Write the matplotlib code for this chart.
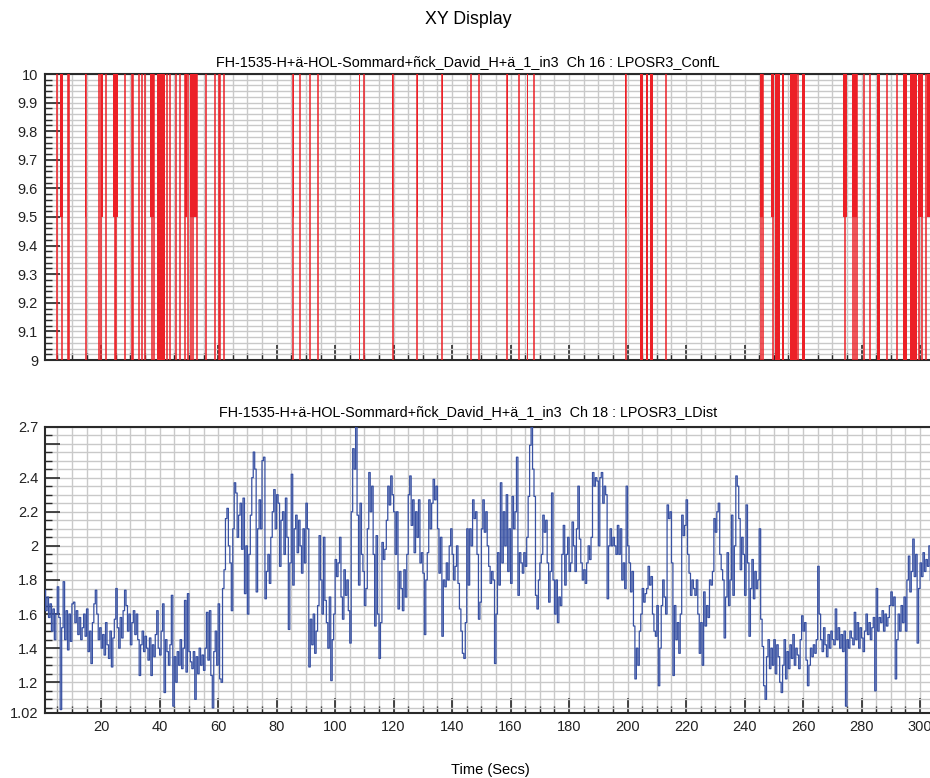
import matplotlib
matplotlib.use("Agg")
import matplotlib.pyplot as plt
import numpy as np
from matplotlib.ticker import MultipleLocator, FixedLocator

plt.rcParams['font.family'] = ['Liberation Sans', 'DejaVu Sans']

run_name = "FH-1535-H+ä-HOL-Sommard+ñck_David_H+ä_1_in3"

# Ch 16 : confidence, sits at 10 and drops to 9.5 or 9
drops_to_9 = [4.85, 6.6, 8.7, 9.0, 14.8, 19.4, 20.1, 21.5, 24.6, 25.2, 28.0, 30.6,
              30.9, 33.1, 33.8, 35.1, 37.3, 38.0, 42.6, 43.5, 45.6, 47.1, 48.7, 49.6,
              50.6, 51.4, 52.7, 55.8, 59.0, 60.2, 60.7, 62.0,
              85.7, 88.0, 91.5, 94.3, 109.9, 119.7, 128.1, 136.6, 146.4, 149.3,
              158.9, 163.0, 168.0, 199.3, 213.1,
              245.6, 246.2, 249.8, 258.4, 274.5, 277.2, 277.8, 278.4, 280.8, 282.9,
              288.6, 292.0, 299.6, 300.5, 302.1]
bursts_to_9 = [(39.0, 41.8), (108.1, 108.5), (165.5, 165.9), (204.3, 205.4),
               (206.3, 207.1), (207.7, 208.8), (250.5, 252.1), (252.7, 253.5),
               (255.6, 257.8), (259.7, 260.6), (285.4, 286.3), (294.3, 295.5),
               (296.4, 298.9)]
bursts_to_95 = [(6.0, 7.1), (14.5, 14.9), (20.0, 20.8), (24.2, 25.6), (36.8, 37.9),
                (48.7, 49.4), (50.4, 52.7), (85.5, 85.9), (119.5, 119.9),
                (128.0, 128.3), (136.5, 136.8), (146.3, 146.6), (158.7, 159.0),
                (199.0, 199.4), (213.0, 213.3), (245.3, 246.4), (249.1, 250.2),
                (273.8, 274.9), (276.9, 278.6), (297.0, 298.9), (299.4, 301.1),
                (302.5, 303.4)]

# Ch 18 : distance, one value every 0.5 s starting at 0.5 s
ldist = [
    1.74, 1.62, 1.70, 1.58, 1.66, 1.50, 1.63, 1.45, 1.60, 1.76,
    1.58, 1.04, 1.52, 1.79, 1.45, 1.62, 1.39, 1.60, 1.44, 1.66,
    1.67, 1.55, 1.62, 1.48, 1.58, 1.45, 1.52, 1.60, 1.47, 1.63,
    1.38, 1.50, 1.31, 1.55, 1.66, 1.74, 1.60, 1.45, 1.52, 1.40,
    1.48, 1.36, 1.55, 1.42, 1.34, 1.50, 1.29, 1.46, 1.57, 1.75,
    1.52, 1.40, 1.58, 1.46, 1.62, 1.74, 1.65, 1.50, 1.60, 1.42,
    1.55, 1.62, 1.48, 1.60, 1.45, 1.24, 1.42, 1.50, 1.38, 1.47,
    1.40, 1.33, 1.46, 1.24, 1.42, 1.35, 1.48, 1.62, 1.40, 1.36,
    1.50, 1.66, 1.14, 1.45, 1.38, 1.30, 1.42, 1.71, 1.06, 1.35,
    1.20, 1.38, 1.30, 1.45, 1.28, 1.40, 1.68, 1.26, 1.72, 1.38,
    1.32, 1.28, 1.38, 1.10, 1.35, 1.25, 1.40, 1.30, 1.36, 1.27,
    1.40, 1.61, 1.33, 1.62, 1.24, 1.05, 1.38, 1.50, 1.30, 1.66,
    1.22, 1.20, 1.75, 1.86, 2.16, 2.22, 2.00, 1.90, 1.62, 2.10,
    2.37, 2.31, 2.05, 2.18, 2.25, 1.98, 2.28, 1.72, 2.00, 1.60,
    1.95, 2.18, 2.40, 2.55, 2.45, 1.73, 2.10, 2.27, 2.10, 2.50,
    2.52, 1.69, 1.85, 1.95, 1.78, 2.05, 2.20, 2.33, 2.10, 2.30,
    2.25, 1.88, 2.15, 2.20, 1.95, 2.28, 2.05, 1.51, 1.90, 2.42,
    1.77, 2.10, 2.18, 1.96, 2.15, 2.00, 1.84, 2.10, 1.90, 2.25,
    2.10, 1.29, 1.57, 1.42, 1.60, 1.37, 1.50, 1.65, 2.06, 1.80,
    1.60, 2.05, 1.68, 1.55, 1.40, 1.70, 1.21, 1.45, 1.60, 1.92,
    1.82, 1.90, 2.05, 1.70, 1.57, 1.86, 1.71, 1.80, 1.62, 1.43,
    2.20, 2.57, 2.45, 2.70, 2.18, 1.77, 2.25, 1.95, 1.85, 1.65,
    1.75, 2.10, 2.43, 2.20, 2.35, 1.95, 1.53, 2.06, 1.60, 1.34,
    1.55, 2.02, 1.92, 1.98, 2.15, 2.35, 2.24, 2.41, 2.30, 2.20,
    1.95, 2.20, 1.63, 1.85, 1.75, 1.62, 1.86, 1.70, 1.95, 2.30,
    2.41, 2.12, 2.27, 1.96, 2.20, 2.05, 2.27, 1.90, 1.96, 1.84,
    1.48, 1.80, 1.96, 2.27, 2.10, 2.25, 2.39, 2.27, 2.35, 2.10,
    1.84, 2.05, 1.47, 1.80, 1.76, 1.90, 1.80, 2.00, 2.10, 1.95,
    1.80, 1.88, 2.00, 1.78, 1.63, 1.50, 1.37, 1.34, 1.55, 2.10,
    1.77, 2.10, 2.00, 2.27, 2.16, 2.20, 1.95, 1.57, 1.67, 2.10,
    2.27, 2.08, 2.20, 2.00, 1.88, 1.78, 1.85, 1.80, 1.31, 1.60,
    1.96, 1.77, 2.37, 1.90, 2.20, 2.00, 2.30, 1.85, 2.10, 1.78,
    2.29, 2.10, 2.20, 2.52, 1.71, 1.96, 1.90, 1.84, 1.96, 1.88,
    2.05, 2.29, 2.59, 2.70, 2.45, 2.29, 1.71, 1.63, 1.80, 1.90,
    1.95, 2.18, 2.08, 2.15, 1.90, 1.67, 1.85, 2.31, 1.80, 1.60,
    1.80, 1.55, 1.70, 1.65, 1.95, 2.12, 1.77, 1.95, 2.05, 1.85,
    1.90, 2.14, 2.00, 1.85, 2.10, 2.35, 2.04, 1.90, 1.80, 1.86,
    1.78, 1.90, 2.00, 1.92, 2.05, 2.43, 2.35, 2.40, 2.38, 2.00,
    2.40, 2.43, 2.25, 2.35, 2.30, 1.69, 2.00, 2.10, 2.00, 2.05,
    2.00, 1.95, 2.12, 1.95, 2.10, 1.80, 1.90, 1.75, 2.35, 2.00,
    1.90, 1.73, 1.85, 1.53, 1.22, 1.40, 1.30, 1.50, 1.60, 1.75,
    1.67, 1.72, 1.75, 1.88, 1.77, 1.82, 1.60, 1.50, 1.47, 1.65,
    1.18, 1.40, 1.65, 1.80, 1.70, 1.60, 2.24, 2.16, 2.20, 1.90,
    1.24, 1.65, 1.45, 1.55, 1.37, 1.60, 2.18, 2.06, 2.12, 2.27,
    1.95, 1.84, 1.71, 1.80, 1.75, 1.71, 1.80, 1.60, 1.37, 1.55,
    1.30, 1.73, 1.53, 1.65, 1.58, 1.80, 1.77, 1.85, 2.16, 2.08,
    2.20, 2.25, 1.95, 1.86, 1.80, 1.46, 1.70, 1.96, 1.65, 1.80,
    2.18, 1.71, 2.00, 2.41, 2.35, 2.16, 1.86, 2.05, 1.95, 1.71,
    2.24, 1.90, 1.47, 1.75, 1.92, 1.69, 1.85, 1.75, 1.80, 2.10,
    1.57, 1.41, 1.18, 1.10, 1.35, 1.45, 1.28, 1.40, 1.30, 1.45,
    1.25, 1.42, 1.35, 1.20, 1.14, 1.30, 1.45, 1.22, 1.38, 1.28,
    1.42, 1.34, 1.48, 1.30, 1.40, 1.36, 1.28, 1.45, 1.59, 1.50,
    1.55, 1.33, 1.18, 1.30, 1.40, 1.35, 1.42, 1.37, 1.45, 1.88,
    1.60, 1.45, 1.38, 1.52, 1.42, 1.35, 1.48, 1.40, 1.50, 1.45,
    1.42, 1.63, 1.45, 1.52, 1.40, 1.48, 1.38, 1.50, 1.06, 1.45,
    1.40, 1.50, 1.46, 1.42, 1.61, 1.45, 1.55, 1.40, 1.52, 1.46,
    1.38, 1.50, 1.60, 1.48, 1.55, 1.45, 1.52, 1.58, 1.15, 1.75,
    1.50, 1.58, 1.55, 1.62, 1.50, 1.60, 1.53, 1.58, 1.65, 1.73,
    1.65, 1.70, 1.22, 1.45, 1.60, 1.50, 1.65, 1.55, 1.70, 1.50,
    1.80, 1.94, 1.73, 1.85, 2.04, 1.82, 1.95, 1.43, 1.75, 1.90,
    1.82, 1.96, 1.85, 1.92, 1.88, 2.00, 1.80,
]
t_ldist = 0.5 + 0.5 * np.arange(len(ldist))

xticks = [20, 40, 60, 80, 100, 120, 140, 160, 180, 200, 220, 240, 260, 280, 300]
xmin, xmax = 0.8, 303.4

red = '#ec2027'
blue = '#3851a3'
grid_col = '#c9c9c9'
spine_col = '#2a2a2a'

fig = plt.figure(figsize=(9.3, 7.78), dpi=100)
ax1 = fig.add_axes([45 / 930, 1 - 360 / 778, 885 / 930, 286 / 778])
ax2 = fig.add_axes([45 / 930, 1 - 713 / 778, 885 / 930, 286.5 / 778])


def style_axes(ax):
    ax.set_xlim(xmin, xmax)
    ax.xaxis.set_major_locator(FixedLocator(xticks))
    ax.xaxis.set_minor_locator(MultipleLocator(5))
    ax.grid(True, which='both', color=grid_col, lw=1.0, zorder=0)
    ax.set_axisbelow(True)
    ax.tick_params(which='both', direction='in', color=spine_col, labelsize=10.5,
                   labelcolor='#222222', pad=5, top=False, right=False)
    ax.tick_params(which='major', length=11, width=1.2)
    ax.tick_params(which='minor', length=5, width=1.0)
    for s in ['top', 'left', 'bottom']:
        ax.spines[s].set_color(spine_col)
        ax.spines[s].set_linewidth(1.5)
    ax.spines['right'].set_visible(False)


# top channel
style_axes(ax1)
ax1.vlines(drops_to_9, 9, 10, color=red, lw=1.1, zorder=3)
for s, e in bursts_to_9:
    ax1.bar(s, 1.0, width=e - s, bottom=9, align='edge', color=red, lw=0, zorder=3)
for s, e in bursts_to_95:
    ax1.bar(s, 0.5, width=e - s, bottom=9.5, align='edge', color=red, lw=0, zorder=3)
ax1.set_ylim(9, 10)
y1 = [9.0, 9.1, 9.2, 9.3, 9.4, 9.5, 9.6, 9.7, 9.8, 9.9, 10.0]
ax1.set_yticks(y1)
ax1.set_yticklabels(['9', '9.1', '9.2', '9.3', '9.4', '9.5', '9.6', '9.7', '9.8', '9.9', '10'])
ax1.yaxis.set_minor_locator(MultipleLocator(0.02))
ax1.set_xticklabels([])

# bottom channel
style_axes(ax2)
ax2.plot(t_ldist, ldist, color=blue, lw=0.9, drawstyle='steps-post', zorder=3)
ax2.set_ylim(1.02, 2.7)
y2 = [1.02, 1.2, 1.4, 1.6, 1.8, 2.0, 2.2, 2.4, 2.6, 2.7]
ax2.set_yticks(y2)
ax2.set_yticklabels(['1.02', '1.2', '1.4', '1.6', '1.8', '2', '2.2', '2.4', '', '2.7'])
ax2.yaxis.set_minor_locator(MultipleLocator(0.05))
ax2.set_xticklabels([str(v) for v in xticks])

fig.text(0.503, 1 - 20 / 778, "XY Display", ha='center', va='center', fontsize=12.8)
fig.text(0.503, 1 - 62 / 778, run_name + "  Ch 16 : LPOSR3_ConfL",
         ha='center', va='center', fontsize=10.4)
fig.text(0.503, 1 - 412 / 778, run_name + "  Ch 18 : LPOSR3_LDist",
         ha='center', va='center', fontsize=10.4)
fig.text(0.527, 1 - 770 / 778, "Time (Secs)", ha='center', va='center', fontsize=10.5)

fig.savefig("out.png", dpi=100)
